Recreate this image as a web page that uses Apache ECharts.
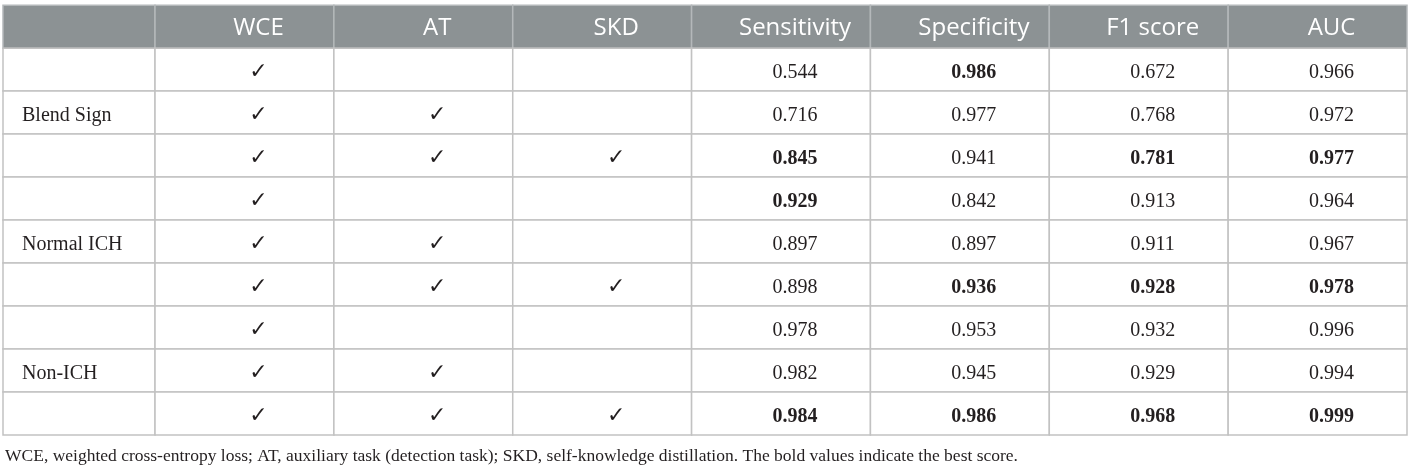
<!DOCTYPE html>
<html>
<head>
<meta charset="utf-8">
<title>Ablation table</title>
<script src="https://cdn.jsdelivr.net/npm/echarts@6.0.0/dist/echarts.min.js"></script>
<style>
  html, body { margin: 0; padding: 0; background: #fff; }
  #main { width: 1411px; height: 467px; }
</style>
</head>
<body>
<div id="main"></div>
<script>
// 表头
var columns = ['', 'WCE', 'AT', 'SKD', 'Sensitivity', 'Specificity', 'F1 score', 'AUC'];
// 第一列分组名
var groups = ['', 'Blend Sign', '', '', 'Normal ICH', '', '', 'Non-ICH', ''];
// 模块是否使用 1 = ✓
var wce = [1, 1, 1, 1, 1, 1, 1, 1, 1];
var at = [0, 1, 1, 0, 1, 1, 0, 1, 1];
var skd = [0, 0, 1, 0, 0, 1, 0, 0, 1];
// 指标
var sensitivity = [0.544, 0.716, 0.845, 0.929, 0.897, 0.898, 0.978, 0.982, 0.984];
var specificity = [0.986, 0.977, 0.941, 0.842, 0.897, 0.936, 0.953, 0.945, 0.986];
var f1 = [0.672, 0.768, 0.781, 0.913, 0.911, 0.928, 0.932, 0.929, 0.968];
var auc = [0.966, 0.972, 0.977, 0.964, 0.967, 0.978, 0.996, 0.994, 0.999];
var footnote = 'WCE, weighted cross-entropy loss; AT, auxiliary task (detection task); SKD, self-knowledge distillation. The bold values indicate the best score.';

(function () {
  var chart = echarts.init(document.getElementById('main'));
  var X_MIN = 0.15;   // 第一列窄一些
  var Y_MIN = -0.05;  // 表头高一点
  var GROUP = 3;      // 每类 3 行

  // 每组里的最大值加粗
  function isBest(arr, i) {
    var s = Math.floor(i / GROUP) * GROUP;
    return arr[i] === Math.max.apply(null, arr.slice(s, s + GROUP));
  }

  var cells = [];
  var data = [];
  function push(col, row, text, bold, header) {
    cells.push({ text: text, bold: bold, header: header });
    data.push([col, row]);
  }
  columns.forEach(function (c, i) { push(i, 0, c, false, true); });
  var flags = [wce, at, skd];
  var metrics = [sensitivity, specificity, f1, auc];
  groups.forEach(function (g, r) {
    push(0, r + 1, g, false, false);
    flags.forEach(function (f, k) { push(k + 1, r + 1, f[r] ? '✓' : '', false, false); });
    metrics.forEach(function (m, k) { push(k + 4, r + 1, m[r].toFixed(3), isBest(m, r), false); });
  });

  function renderItem(params, api) {
    var col = api.value(0), row = api.value(1);
    var cell = cells[params.dataIndex];
    var p0 = api.coord([Math.max(col, X_MIN), Math.max(row, Y_MIN)]);
    var p1 = api.coord([col + 1, row + 1]);
    var w = p1[0] - p0[0], h = p1[1] - p0[1];
    var tx = col === 0 ? p0[0] + 19 : (p0[0] + 28 + p1[0]) / 2;
    var ty = cell.header ? p0[1] + h / 2 + 2 : p0[1] + h / 2 + 3;
    var check = cell.text === '✓';
    return {
      type: 'group',
      children: [{
        type: 'rect',
        shape: { x: p0[0], y: p0[1], width: w, height: h },
        style: {
          fill: cell.header ? '#8c9294' : '#fff',
          stroke: cell.header ? '#b4b8ba' : '#c2c2c2',
          lineWidth: 1.5
        }
      }, {
        type: 'text',
        x: tx,
        y: ty,
        style: {
          text: cell.text,
          align: col === 0 ? 'left' : 'center',
          verticalAlign: 'middle',
          fill: cell.header ? '#fff' : '#231f20',
          fontFamily: cell.header ? 'Open Sans' : (check ? 'DejaVu Sans' : 'Liberation Serif'),
          fontSize: cell.header ? 24 : (check ? 22 : 20),
          fontWeight: cell.bold ? 'bold' : 'normal'
        }
      }]
    };
  }

  var option = {
    animation: false,
    title: {
      text: footnote,
      left: 0,
      top: 442,
      textStyle: {
        fontFamily: 'Liberation Serif',
        fontSize: 17.5,
        fontWeight: 'normal',
        color: '#231f20'
      }
    },
    grid: { left: 3, right: 4, top: 3, bottom: 32 },
    xAxis: { type: 'value', min: X_MIN, max: columns.length, show: false },
    yAxis: { type: 'value', min: Y_MIN, max: groups.length + 1, inverse: true, show: false },
    series: [{
      type: 'custom',
      renderItem: renderItem,
      encode: { x: 0, y: 1 },
      data: data
    }]
  };
  chart.setOption(option);
  window.addEventListener('resize', function () {
    chart.resize();
  });
})();
</script>
</body>
</html>
